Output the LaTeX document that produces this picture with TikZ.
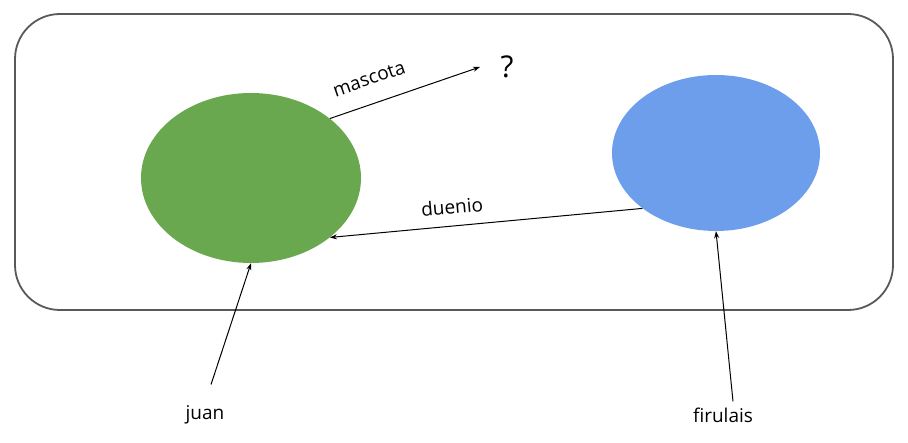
\documentclass[tikz,border=0pt]{standalone}
\usepackage{fontspec}
\setmainfont{Open Sans}
\usetikzlibrary{shapes.geometric,arrows.meta}
\definecolor{objgreen}{HTML}{6AA84F}
\definecolor{objblue}{HTML}{6D9EEB}
\definecolor{boxgray}{HTML}{595959}
\tikzset{
  obj/.style={ellipse, inner sep=0pt},
  lbl/.style={font=\fontsize{19}{22}\selectfont, inner sep=0pt},
  ref/.style={-{Stealth[length=7pt,width=5pt]}, line width=1pt, black},
}
\begin{document}
\begin{tikzpicture}[x=1pt,y=-1pt]
\useasboundingbox (0,0) rectangle (908,443);
% the memory area
\draw[boxgray, line width=1.8pt, rounded corners=45pt] (15,14) rectangle (893,310);
% objects
\node[obj, fill=objgreen, minimum width=220pt, minimum height=170pt] (juanobj) at (251,178) {};
\node[obj, fill=objblue, minimum width=208pt, minimum height=156pt] (firuobj) at (716,153) {};
\node[font=\fontsize{30}{34}\selectfont, inner sep=0pt] (nada) at (507,67) {?};
% variables
\node[lbl] (juan) at (205,415) {juan};
\node[lbl] (firulais) at (723,415) {firulais};
% references
\draw[ref] (juanobj.37) -- (480,67) coordinate (tip);
\node[lbl, rotate=19] (mascota) at (369,79) {mascota};
\draw[ref] (firuobj.217) -- (juanobj.323);
\node[lbl, rotate=5] (duenio) at (452,207) {duenio};
\draw[ref] ([xshift=6pt,yshift=21pt]juan.north) -- (juanobj.south);
\draw[ref] ([xshift=10pt,yshift=6pt]firulais.north) -- (firuobj.south);
\end{tikzpicture}
\end{document}
